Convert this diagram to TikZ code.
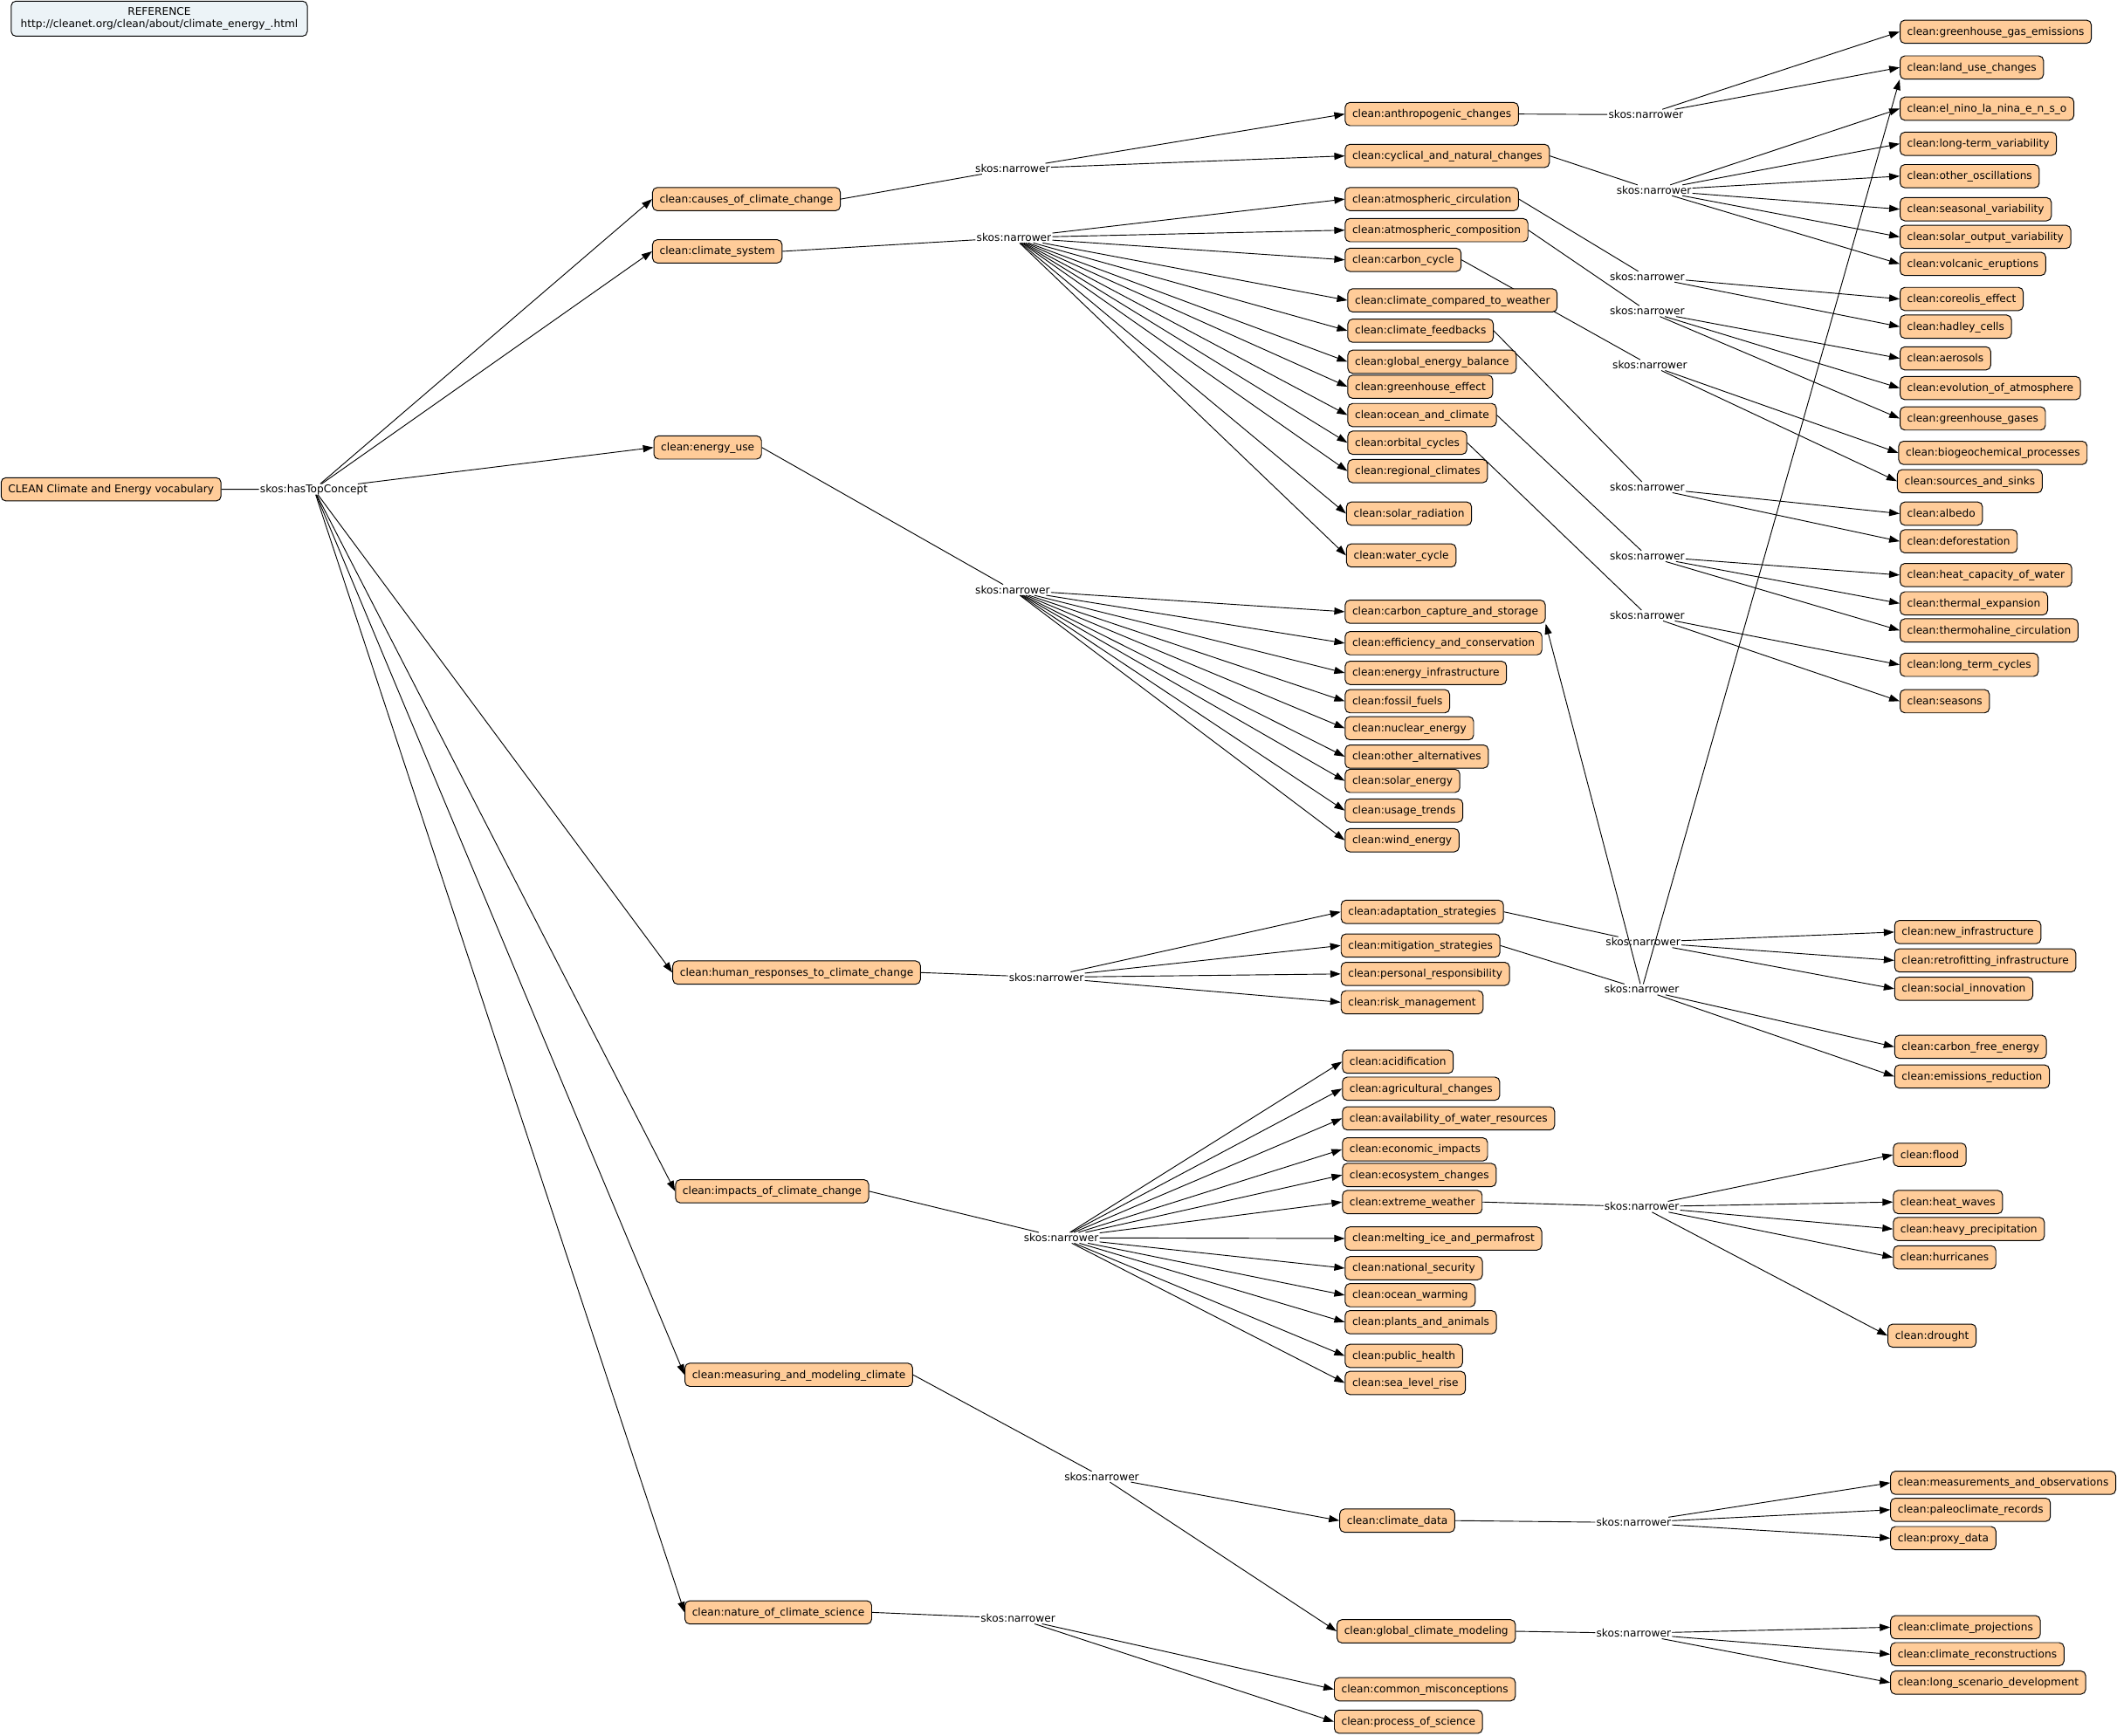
\documentclass[tikz,border=0pt]{standalone}
\usepackage{fontspec}
\setmainfont{DejaVu Sans}
\usepackage{tikz}
\usetikzlibrary{arrows.meta,backgrounds}
\definecolor{conceptfill}{RGB}{255,204,153}
\definecolor{referencefill}{RGB}{236,243,247}
\tikzset{
    concept/.style={draw, fill=conceptfill, rounded corners=5pt, line width=0.9pt, anchor=west, inner xsep=7.5pt, inner ysep=2pt, minimum height=24.5pt, text height=0.95em, text depth=0.22em, yshift=-0.7pt},
    refbox/.style={draw, fill=referencefill, rounded corners=5pt, line width=0.9pt, anchor=north west, align=center, minimum width=312pt, minimum height=37pt, inner sep=2pt},
    relation/.style={inner sep=1pt, text height=0.85em, text depth=0.05em, yshift=-1.4pt},
    link/.style={line width=0.85pt},
    narrowarrow/.style={link, -{Triangle[length=11pt,width=7.5pt]}}
}
\newcommand{\drawConcept}[3]{
    \node[concept] (#1) at (#2,#3) {clean:#1}
}
\newcommand{\drawLabel}[4]{
    \node[relation] (#1) at (#3,#4) {#2}
}
\newcommand{\drawLink}[2]{
    \draw[link] (#1.east) -- (#2)
}
\newcommand{\drawArrow}[2]{
    \draw[narrowarrow] (#1) -- (#2.west)
}

\begin{document}
\catcode`\_=12
\begin{tikzpicture}[x=0.05cm, y=-0.05cm, font=\fontsize{11.2}{12.8}\selectfont]
            \useasboundingbox (0,0) rectangle (1568,1286);

            \node[refbox] (reference) at (8,0.5) {REFERENCE\\http://cleanet.org/clean/about/climate_energy_.html};
            \node[concept] (vocabulary) at (0.5,362) {CLEAN Climate and Energy vocabulary};

            \drawConcept{causes_of_climate_change}{483}{147};
            \drawConcept{climate_system}{483}{185.7};
            \drawConcept{energy_use}{484}{331};
            \drawConcept{human_responses_to_climate_change}{498}{720};
            \drawConcept{impacts_of_climate_change}{500}{882};
            \drawConcept{measuring_and_modeling_climate}{507}{1018};
            \drawConcept{nature_of_climate_science}{507}{1194};

            \drawConcept{anthropogenic_changes}{996}{84};
            \drawConcept{cyclical_and_natural_changes}{996}{115};
            \drawConcept{atmospheric_circulation}{996}{147};
            \drawConcept{atmospheric_composition}{996}{170};
            \drawConcept{carbon_cycle}{996}{192};
            \drawConcept{climate_compared_to_weather}{998}{222};
            \drawConcept{climate_feedbacks}{998}{244.5};
            \drawConcept{global_energy_balance}{998}{267.5};
            \drawConcept{greenhouse_effect}{998}{286};
            \drawConcept{ocean_and_climate}{998}{307};
            \drawConcept{orbital_cycles}{998}{327.5};
            \drawConcept{regional_climates}{998}{348.5};
            \drawConcept{solar_radiation}{997}{380};
            \drawConcept{water_cycle}{997}{411};
            \drawConcept{carbon_capture_and_storage}{996}{452.7};
            \drawConcept{efficiency_and_conservation}{996}{476};
            \drawConcept{energy_infrastructure}{996}{498};
            \drawConcept{fossil_fuels}{996}{519};
            \drawConcept{nuclear_energy}{996}{539};
            \drawConcept{other_alternatives}{996}{560};
            \drawConcept{solar_energy}{996}{578};
            \drawConcept{usage_trends}{996}{600};
            \drawConcept{wind_energy}{996}{622};
            \drawConcept{adaptation_strategies}{993}{675};
            \drawConcept{mitigation_strategies}{993}{700};
            \drawConcept{personal_responsibility}{993}{721};
            \drawConcept{risk_management}{993}{742};
            \drawConcept{acidification}{994}{786};
            \drawConcept{agricultural_changes}{994}{806};
            \drawConcept{availability_of_water_resources}{994}{828};
            \drawConcept{economic_impacts}{994}{851};
            \drawConcept{ecosystem_changes}{994}{870};
            \drawConcept{extreme_weather}{994}{890};
            \drawConcept{melting_ice_and_permafrost}{996}{917};
            \drawConcept{national_security}{996}{939};
            \drawConcept{ocean_warming}{996}{959};
            \drawConcept{plants_and_animals}{996}{979};
            \drawConcept{public_health}{996}{1004};
            \drawConcept{sea_level_rise}{996}{1024};
            \drawConcept{climate_data}{992}{1126};
            \drawConcept{global_climate_modeling}{990}{1208};
            \drawConcept{common_misconceptions}{988}{1251};
            \drawConcept{process_of_science}{988}{1275};

            \drawConcept{greenhouse_gas_emissions}{1407}{23};
            \drawConcept{land_use_changes}{1407}{49.5};
            \drawConcept{el_nino_la_nina_e_n_s_o}{1407}{80};
            \drawConcept{long-term_variability}{1407}{106};
            \drawConcept{other_oscillations}{1407}{130};
            \drawConcept{seasonal_variability}{1407}{154.5};
            \drawConcept{solar_output_variability}{1407}{175};
            \drawConcept{volcanic_eruptions}{1407}{195};
            \drawConcept{coreolis_effect}{1407}{221};
            \drawConcept{hadley_cells}{1407}{241.5};
            \drawConcept{aerosols}{1407}{265};
            \drawConcept{evolution_of_atmosphere}{1407}{287};
            \drawConcept{greenhouse_gases}{1407}{309.5};
            \drawConcept{biogeochemical_processes}{1406}{335};
            \drawConcept{sources_and_sinks}{1405}{356};
            \drawConcept{albedo}{1407}{380};
            \drawConcept{deforestation}{1407}{400.5};
            \drawConcept{heat_capacity_of_water}{1407}{425.5};
            \drawConcept{thermal_expansion}{1407}{446.5};
            \drawConcept{thermohaline_circulation}{1407}{466.5};
            \drawConcept{long_term_cycles}{1407}{492};
            \drawConcept{seasons}{1407}{519};
            \drawConcept{new_infrastructure}{1403}{690};
            \drawConcept{retrofitting_infrastructure}{1403}{711};
            \drawConcept{social_innovation}{1403}{732};
            \drawConcept{carbon_free_energy}{1403}{775};
            \drawConcept{emissions_reduction}{1403}{797};
            \drawConcept{flood}{1402}{855};
            \drawConcept{heat_waves}{1402}{890};
            \drawConcept{heavy_precipitation}{1402}{910};
            \drawConcept{hurricanes}{1402}{931};
            \drawConcept{drought}{1398}{989};
            \drawConcept{measurements_and_observations}{1400}{1098};
            \drawConcept{paleoclimate_records}{1400}{1118};
            \drawConcept{proxy_data}{1400}{1139};
            \drawConcept{climate_projections}{1400}{1205};
            \drawConcept{climate_reconstructions}{1400}{1225};
            \drawConcept{long_scenario_development}{1400}{1246};

            \drawLabel{topConcept}{skos:hasTopConcept}{232.5}{361.5};
            \drawLabel{causesNarrower}{skos:narrower}{750}{124};
            \drawLabel{systemNarrower}{skos:narrower}{751}{175};
            \drawLabel{energyNarrower}{skos:narrower}{750}{436};
            \drawLabel{responsesNarrower}{skos:narrower}{775}{723};
            \drawLabel{impactsNarrower}{skos:narrower}{786}{916};
            \drawLabel{measuringNarrower}{skos:narrower}{816}{1093};
            \drawLabel{natureNarrower}{skos:narrower}{754}{1198};
            \drawLabel{anthropogenicNarrower}{skos:narrower}{1219}{84};
            \drawLabel{cyclicalNarrower}{skos:narrower}{1225}{140};
            \drawLabel{circulationNarrower}{skos:narrower}{1220}{204};
            \drawLabel{compositionNarrower}{skos:narrower}{1220}{229.5};
            \drawLabel{carbonNarrower}{skos:narrower}{1222}{269.5};
            \drawLabel{feedbacksNarrower}{skos:narrower}{1220}{360};
            \drawLabel{oceanNarrower}{skos:narrower}{1220}{411};
            \drawLabel{orbitalNarrower}{skos:narrower}{1220}{455};
            \drawLabel{adaptationNarrower}{skos:narrower}{1217}{697};
            \drawLabel{mitigationNarrower}{skos:narrower}{1216}{732};
            \drawLabel{weatherNarrower}{skos:narrower}{1216}{893};
            \drawLabel{dataNarrower}{skos:narrower}{1210}{1127};
            \drawLabel{modelingNarrower}{skos:narrower}{1210}{1209};

            \begin{pgfonlayer}{background}
            \drawLink{vocabulary}{topConcept};
            \drawArrow{topConcept}{causes_of_climate_change};
            \drawArrow{topConcept}{climate_system};
            \drawArrow{topConcept}{energy_use};
            \drawArrow{topConcept}{human_responses_to_climate_change};
            \drawArrow{topConcept}{impacts_of_climate_change};
            \drawArrow{topConcept}{measuring_and_modeling_climate};
            \drawArrow{topConcept}{nature_of_climate_science};

            \drawLink{causes_of_climate_change}{causesNarrower};
            \drawArrow{causesNarrower}{anthropogenic_changes};
            \drawArrow{causesNarrower}{cyclical_and_natural_changes};

            \drawLink{climate_system}{systemNarrower};
            \drawArrow{systemNarrower}{atmospheric_circulation};
            \drawArrow{systemNarrower}{atmospheric_composition};
            \drawArrow{systemNarrower}{carbon_cycle};
            \drawArrow{systemNarrower}{climate_compared_to_weather};
            \drawArrow{systemNarrower}{climate_feedbacks};
            \drawArrow{systemNarrower}{global_energy_balance};
            \drawArrow{systemNarrower}{greenhouse_effect};
            \drawArrow{systemNarrower}{ocean_and_climate};
            \drawArrow{systemNarrower}{orbital_cycles};
            \drawArrow{systemNarrower}{regional_climates};
            \drawArrow{systemNarrower}{solar_radiation};
            \drawArrow{systemNarrower}{water_cycle};

            \drawLink{energy_use}{energyNarrower};
            \drawArrow{energyNarrower}{carbon_capture_and_storage};
            \drawArrow{energyNarrower}{efficiency_and_conservation};
            \drawArrow{energyNarrower}{energy_infrastructure};
            \drawArrow{energyNarrower}{fossil_fuels};
            \drawArrow{energyNarrower}{nuclear_energy};
            \drawArrow{energyNarrower}{other_alternatives};
            \drawArrow{energyNarrower}{solar_energy};
            \drawArrow{energyNarrower}{usage_trends};
            \drawArrow{energyNarrower}{wind_energy};

            \drawLink{human_responses_to_climate_change}{responsesNarrower};
            \drawArrow{responsesNarrower}{adaptation_strategies};
            \drawArrow{responsesNarrower}{mitigation_strategies};
            \drawArrow{responsesNarrower}{personal_responsibility};
            \drawArrow{responsesNarrower}{risk_management};

            \drawLink{impacts_of_climate_change}{impactsNarrower};
            \drawArrow{impactsNarrower}{acidification};
            \drawArrow{impactsNarrower}{agricultural_changes};
            \drawArrow{impactsNarrower}{availability_of_water_resources};
            \drawArrow{impactsNarrower}{economic_impacts};
            \drawArrow{impactsNarrower}{ecosystem_changes};
            \drawArrow{impactsNarrower}{extreme_weather};
            \drawArrow{impactsNarrower}{melting_ice_and_permafrost};
            \drawArrow{impactsNarrower}{national_security};
            \drawArrow{impactsNarrower}{ocean_warming};
            \drawArrow{impactsNarrower}{plants_and_animals};
            \drawArrow{impactsNarrower}{public_health};
            \drawArrow{impactsNarrower}{sea_level_rise};

            \drawLink{measuring_and_modeling_climate}{measuringNarrower};
            \drawArrow{measuringNarrower}{climate_data};
            \drawArrow{measuringNarrower}{global_climate_modeling};

            \drawLink{nature_of_climate_science}{natureNarrower};
            \drawArrow{natureNarrower}{common_misconceptions};
            \drawArrow{natureNarrower}{process_of_science};

            \drawLink{anthropogenic_changes}{anthropogenicNarrower};
            \drawArrow{anthropogenicNarrower}{greenhouse_gas_emissions};
            \drawArrow{anthropogenicNarrower}{land_use_changes};

            \drawLink{cyclical_and_natural_changes}{cyclicalNarrower};
            \drawArrow{cyclicalNarrower}{el_nino_la_nina_e_n_s_o};
            \drawArrow{cyclicalNarrower}{long-term_variability};
            \drawArrow{cyclicalNarrower}{other_oscillations};
            \drawArrow{cyclicalNarrower}{seasonal_variability};
            \drawArrow{cyclicalNarrower}{solar_output_variability};
            \drawArrow{cyclicalNarrower}{volcanic_eruptions};

            \drawLink{atmospheric_circulation}{circulationNarrower};
            \drawArrow{circulationNarrower}{coreolis_effect};
            \drawArrow{circulationNarrower}{hadley_cells};

            \drawLink{atmospheric_composition}{compositionNarrower};
            \drawArrow{compositionNarrower}{aerosols};
            \drawArrow{compositionNarrower}{evolution_of_atmosphere};
            \drawArrow{compositionNarrower}{greenhouse_gases};

            \drawLink{carbon_cycle}{carbonNarrower};
            \drawArrow{carbonNarrower}{biogeochemical_processes};
            \drawArrow{carbonNarrower}{sources_and_sinks};

            \drawLink{climate_feedbacks}{feedbacksNarrower};
            \drawArrow{feedbacksNarrower}{albedo};
            \drawArrow{feedbacksNarrower}{deforestation};

            \drawLink{ocean_and_climate}{oceanNarrower};
            \drawArrow{oceanNarrower}{heat_capacity_of_water};
            \drawArrow{oceanNarrower}{thermal_expansion};
            \drawArrow{oceanNarrower}{thermohaline_circulation};

            \drawLink{orbital_cycles}{orbitalNarrower};
            \drawArrow{orbitalNarrower}{long_term_cycles};
            \drawArrow{orbitalNarrower}{seasons};

            \drawLink{adaptation_strategies}{adaptationNarrower};
            \drawArrow{adaptationNarrower}{new_infrastructure};
            \drawArrow{adaptationNarrower}{retrofitting_infrastructure};
            \drawArrow{adaptationNarrower}{social_innovation};

            \drawLink{mitigation_strategies}{mitigationNarrower};
            \drawArrow{mitigationNarrower}{carbon_free_energy};
            \drawArrow{mitigationNarrower}{emissions_reduction};
            \draw[narrowarrow] (mitigationNarrower) -- (carbon_capture_and_storage.south east);
            \draw[narrowarrow] (mitigationNarrower) -- (land_use_changes.south west);

            \drawLink{extreme_weather}{weatherNarrower};
            \drawArrow{weatherNarrower}{flood};
            \drawArrow{weatherNarrower}{heat_waves};
            \drawArrow{weatherNarrower}{heavy_precipitation};
            \drawArrow{weatherNarrower}{hurricanes};
            \drawArrow{weatherNarrower}{drought};

            \drawLink{climate_data}{dataNarrower};
            \drawArrow{dataNarrower}{measurements_and_observations};
            \drawArrow{dataNarrower}{paleoclimate_records};
            \drawArrow{dataNarrower}{proxy_data};

            \drawLink{global_climate_modeling}{modelingNarrower};
            \drawArrow{modelingNarrower}{climate_projections};
            \drawArrow{modelingNarrower}{climate_reconstructions};
            \drawArrow{modelingNarrower}{long_scenario_development};
            \end{pgfonlayer}

        \end{tikzpicture}
\end{document}
